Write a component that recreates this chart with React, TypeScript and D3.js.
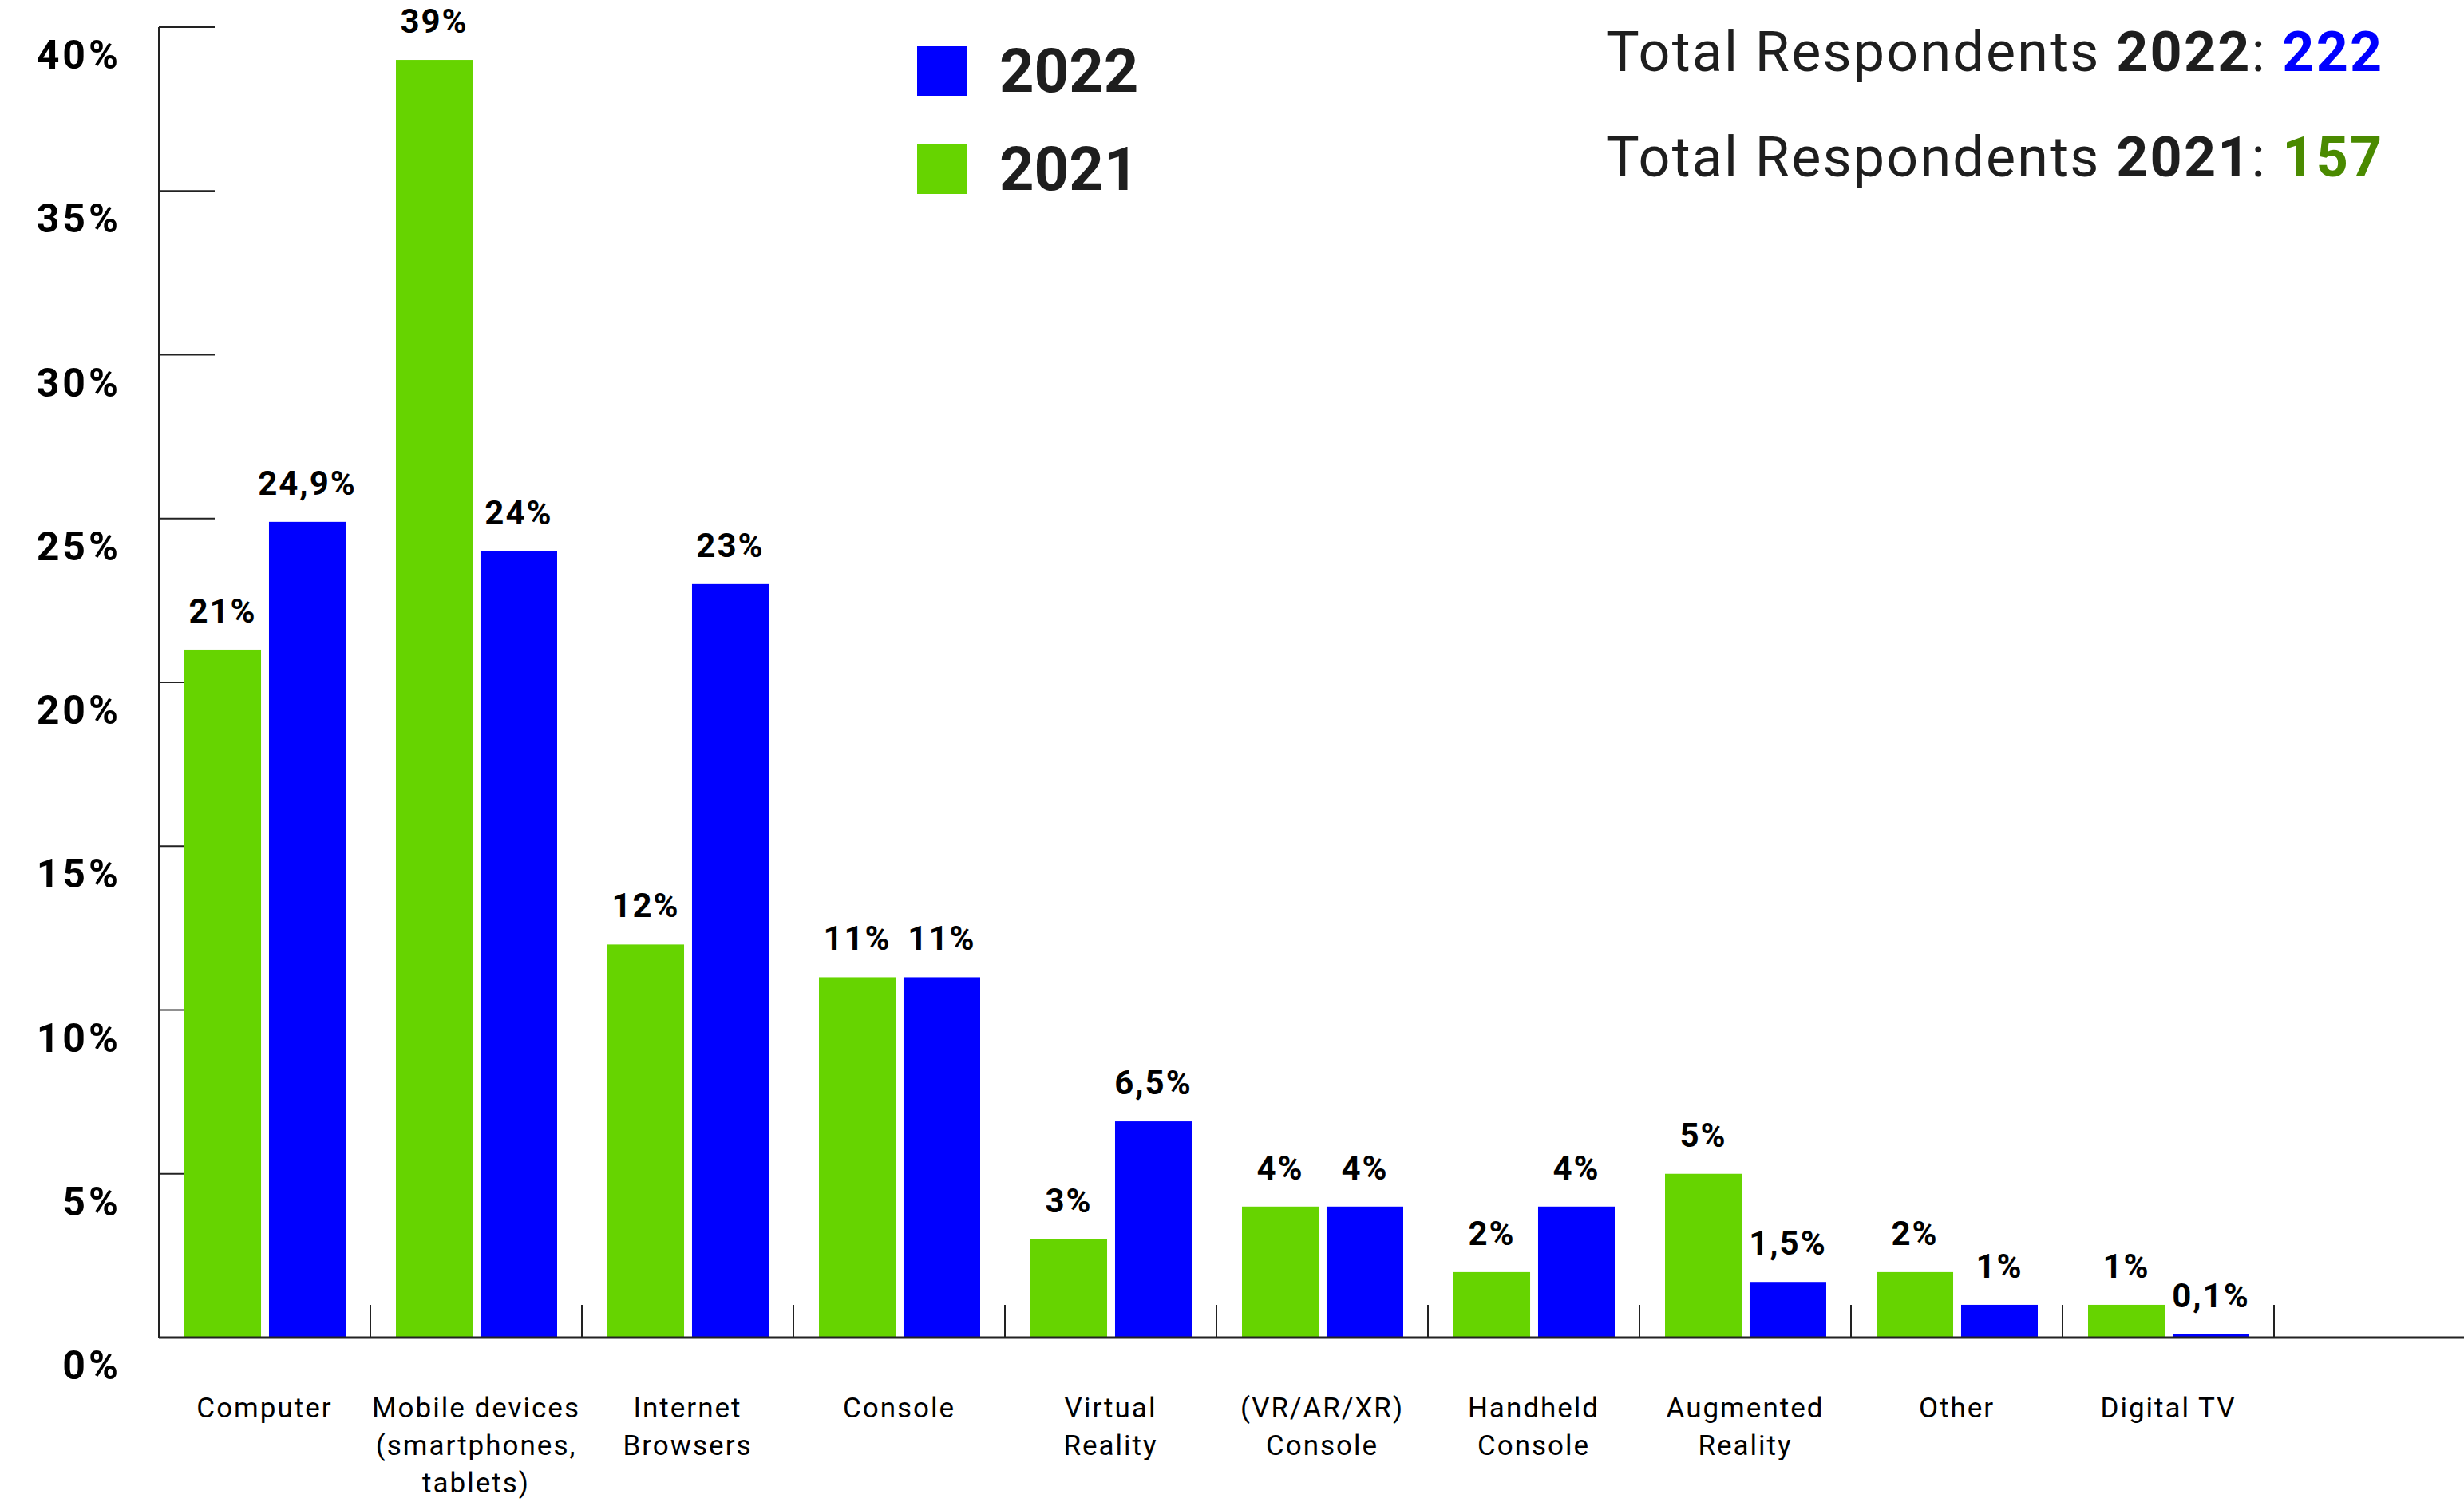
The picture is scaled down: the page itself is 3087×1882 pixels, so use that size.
import React from "react";
import * as d3 from "d3";

const categories: string[][] = [
  ["Computer"],
  ["Mobile devices", "(smartphones,", "tablets)"],
  ["Internet", "Browsers"],
  ["Console"],
  ["Virtual", "Reality"],
  ["(VR/AR/XR)", "Console"],
  ["Handheld", "Console"],
  ["Augmented", "Reality"],
  ["Other"],
  ["Digital TV"],
];
const series = ["2021", "2022"];
const values2021 = [21, 39, 12, 11, 3, 4, 2, 5, 2, 1];
const values2022 = [24.9, 24, 23, 11, 6.6, 4, 4, 1.7, 1, 0.1];
const labels2021 = ["21%", "39%", "12%", "11%", "3%", "4%", "2%", "5%", "2%", "1%"];
const labels2022 = ["24,9%", "24%", "23%", "11%", "6,5%", "4%", "4%", "1,5%", "1%", "0,1%"];
const yTicks = [0, 5, 10, 15, 20, 25, 30, 35, 40];
const totals = [
  { year: "2022", n: "222" },
  { year: "2021", n: "157" },
];

const GREEN = "#66d400";
const BLUE = "#0000ff";
const GREEN_TEXT = "#4a8a00";
const INK = "#1e1e1e";
const FONT = "Roboto, 'Open Sans', sans-serif";

export default function App() {
  const W = 3087;
  const H = 1882;
  const axisX = 199;
  const bandW = 265;
  const baseY = 1676;
  const topY = 34;

  const x = d3
    .scaleBand<number>()
    .domain(d3.range(categories.length))
    .range([axisX, axisX + bandW * categories.length])
    .padding(0);
  const xs = d3
    .scaleBand<string>()
    .domain(series)
    .range([32, 234])
    .paddingInner(0.094)
    .paddingOuter(0);
  const y = d3.scaleLinear().domain([0, 40]).range([baseY, topY]);

  const colorOf = (s: string) => (s === "2021" ? GREEN : BLUE);
  const valsOf = (s: string) => (s === "2021" ? values2021 : values2022);
  const labsOf = (s: string) => (s === "2021" ? labels2021 : labels2022);

  return (
    <div style={{ position: "fixed", left: 0, top: 0, width: W, height: H, background: "#fff" }}>
      <svg width={W} height={H} style={{ display: "block" }} fontFamily={FONT}>
        <rect x={0} y={0} width={W} height={H} fill="#fff" />
        {/* y axis line */}
        <line x1={axisX} x2={axisX} y1={y(40)} y2={baseY} stroke="#222" strokeWidth={2} />
        {/* y ticks */}
        {yTicks
          .filter((t) => t > 0)
          .map((t) => (
            <line key={"yt" + t} x1={axisX} x2={axisX + 70} y1={y(t)} y2={y(t)} stroke="#222" strokeWidth={2} />
          ))}
        {yTicks.map((t) => (
          <text
            key={"yl" + t}
            x={152}
            y={y(t) + 35}
            textAnchor="end"
            dominantBaseline="central"
            fontSize={50}
            letterSpacing={4}
            fontWeight={700}
            fill="#000"
          >
            {t + "%"}
          </text>
        ))}
        {/* bars */}
        {series.map((s) =>
          valsOf(s).map((v, i) => (
            <rect
              key={s + i}
              x={(x(i) as number) + (xs(s) as number)}
              y={y(v)}
              width={xs.bandwidth()}
              height={baseY - y(v) + 1}
              fill={colorOf(s)}
            />
          ))
        )}
        {/* baseline */}
        <line x1={axisX} x2={W} y1={baseY} y2={baseY} stroke="#222" strokeWidth={3} />
        {/* category separators */}
        {categories.map((_, i) => (
          <line
            key={"sep" + i}
            x1={(x(i) as number) + bandW}
            x2={(x(i) as number) + bandW}
            y1={baseY}
            y2={baseY - 41}
            stroke="#222"
            strokeWidth={2}
          />
        ))}
        {/* value labels */}
        {series.map((s) =>
          valsOf(s).map((v, i) => (
            <text
              key={"vl" + s + i}
              x={(x(i) as number) + (xs(s) as number) + xs.bandwidth() / 2}
              y={y(v) - 34}
              textAnchor="middle"
              fontSize={42}
              letterSpacing={2}
              fontWeight={700}
              fill="#000"
            >
              {labsOf(s)[i]}
            </text>
          ))
        )}
        {/* category labels */}
        {categories.map((lines, i) => (
          <text
            key={"cat" + i}
            x={(x(i) as number) + bandW / 2}
            y={1764}
            textAnchor="middle"
            fontSize={35}
            letterSpacing={2}
            fill="#000"
          >
            {lines.map((ln, j) => (
              <tspan key={j} x={(x(i) as number) + bandW / 2} y={1764 + j * 47} dominantBaseline="central">
                {ln}
              </tspan>
            ))}
          </text>
        ))}
        {/* legend */}
        {["2022", "2021"].map((s, k) => (
          <g key={"lg" + s}>
            <rect x={1149} y={58 + k * 123} width={62} height={62} fill={colorOf(s)} />
            <text x={1252} y={89 + k * 123} dominantBaseline="central" fontSize={76} fontWeight={700} fill={INK}>
              {s}
            </text>
          </g>
        ))}
        {/* totals */}
        {totals.map((t, k) => (
          <text
            key={"tot" + t.year}
            x={2012}
            y={65 + k * 132}
            dominantBaseline="central"
            fontSize={70}
            letterSpacing={2.2}
            fill={INK}
          >
            <tspan>Total Respondents </tspan>
            <tspan fontWeight={700}>{t.year}</tspan>
            <tspan>: </tspan>
            <tspan fontWeight={700} fill={t.year === "2022" ? BLUE : GREEN_TEXT}>
              {t.n}
            </tspan>
          </text>
        ))}
      </svg>
    </div>
  );
}
